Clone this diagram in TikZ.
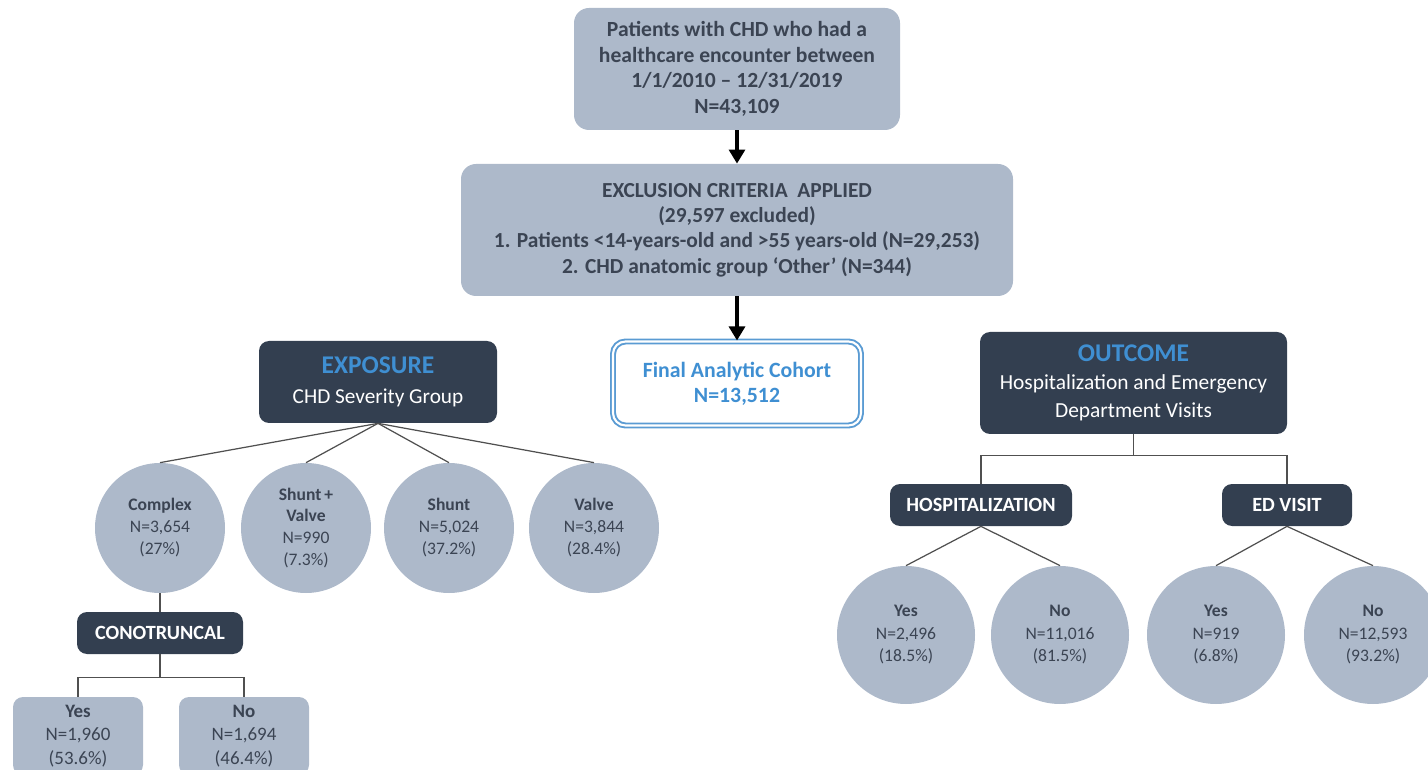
\documentclass[tikz,border=0pt]{standalone}
\usepackage{fontspec}
\setmainfont{Carlito}
\usetikzlibrary{positioning, arrows.meta}
\definecolor{boxgray}{HTML}{ADB9CA}
\definecolor{boxdark}{HTML}{333F50}
\definecolor{textgray}{HTML}{3B4453}
\definecolor{headblue}{HTML}{3F8FD2}
\definecolor{cohortblue}{HTML}{5A9BD3}
\definecolor{branchgray}{HTML}{505050}

\begin{document}
\begin{tikzpicture}[x=0.02cm, y=-0.02cm,
  graybox/.style={rectangle, rounded corners=0.3cm, fill=boxgray, text=textgray, align=center, inner sep=0pt,
    font=\bfseries\fontsize{12.3}{14.6}\selectfont},
  darkbox/.style={rectangle, rounded corners=0.2cm, fill=boxdark, text=white, align=center, inner sep=0pt},
  labelbox/.style={darkbox, font=\bfseries\fontsize{11.5}{13}\selectfont, minimum height=42*0.02cm},
  bubble/.style={circle, fill=boxgray, text=textgray, align=center, inner sep=0pt,
    font=\fontsize{10}{12.5}\selectfont, minimum size=130*0.02cm},
  bigbubble/.style={bubble, font=\fontsize{10}{12.8}\selectfont, minimum size=138*0.02cm},
  answerbox/.style={rectangle, rounded corners=0.2cm, fill=boxgray, text=textgray, align=center, inner sep=0pt,
    font=\fontsize{10.8}{13.3}\selectfont, minimum width=130*0.02cm, minimum height=78*0.02cm},
  flow/.style={-{Triangle[width=9pt, length=8pt]}, line width=2.2pt, black},
  branch/.style={draw=branchgray, line width=0.7pt}
]
  \useasboundingbox (0,0) rectangle (1428,770);
  \clip (0,0) rectangle (1428,770);

  % cohort selection
  \node[graybox, minimum width=326*0.02cm, minimum height=122*0.02cm] (patients) at (737,69)
    {Patients with CHD who had a\\healthcare encounter between\\1/1/2010 -- 12/31/2019\\N=43,109};
  \node[graybox, minimum width=552*0.02cm, minimum height=132*0.02cm, font=\bfseries\fontsize{12.2}{14.4}\selectfont] (exclusion) at (737,230)
    {EXCLUSION CRITERIA\ \ APPLIED\\(29,597 excluded)\\1. Patients <14-years-old and >55 years-old (N=29,253)\\2. CHD anatomic group `Other' (N=344)};
  \node[rectangle, rounded corners=0.25cm, fill=white, draw=cohortblue, line width=1.1pt, double=white,
    double distance=1.2pt, minimum width=248*0.02cm, minimum height=84*0.02cm, align=center, inner sep=0pt,
    text=headblue, font=\bfseries\fontsize{12.4}{14.2}\selectfont] (cohort) at (737,383.5)
    {Final Analytic Cohort\\N=13,512};

  \draw[flow] (patients.south) -- (exclusion.north);
  \draw[flow] (exclusion.south) -- (cohort.north);

  % exposure
  \node[darkbox, minimum width=238*0.02cm, minimum height=82*0.02cm, font=\fontsize{12.1}{17}\selectfont] (exposure) at (378,382)
    {{\fontsize{14.5}{17}\selectfont\bfseries\color{headblue}EXPOSURE}\\CHD Severity Group};
  \node[bubble] (complex) at (160,528) {\textbf{Complex}\\N=3,654\\(27\%)};
  \node[bubble] (shuntvalve) at (306,528) {\textbf{Shunt\,+}\\\textbf{Valve}\\N=990\\(7.3\%)};
  \node[bubble] (shunt) at (449,528) {\textbf{Shunt}\\N=5,024\\(37.2\%)};
  \node[bubble] (valve) at (594,528) {\textbf{Valve}\\N=3,844\\(28.4\%)};
  \foreach \grp in {complex, shuntvalve, shunt, valve}
    \draw[branch] (exposure.south) -- (\grp.north);

  \node[labelbox, minimum width=166*0.02cm] (conotruncal) at (160,633) {CONOTRUNCAL};
  \node[answerbox] (conoyes) at (78,736) {\textbf{Yes}\\N=1,960\\(53.6\%)};
  \node[answerbox] (conono) at (244,736) {\textbf{No}\\N=1,694\\(46.4\%)};
  \draw[branch] (complex.south) -- (conotruncal.north);
  \draw[branch] (conotruncal.south) -- ++(0,23) coordinate (conofork);
  \draw[branch] (conoyes.north) |- (conofork) -| (conono.north);

  % outcome
  \node[darkbox, minimum width=307*0.02cm, minimum height=102*0.02cm, font=\fontsize{12.2}{16}\selectfont] (outcome) at (1133.5,383)
    {{\fontsize{14.5}{16}\selectfont\bfseries\color{headblue}OUTCOME}\\Hospitalization and Emergency\\Department Visits};
  \node[labelbox, minimum width=182*0.02cm] (hosp) at (981,505) {HOSPITALIZATION};
  \node[labelbox, minimum width=130*0.02cm] (edvisit) at (1287,505) {ED VISIT};
  \draw[branch] (outcome.south) -- ++(0,21) coordinate (outfork);
  \draw[branch] (hosp.north) |- (outfork) -| (edvisit.north);

  \node[bigbubble] (hospyes) at (906,635) {\textbf{Yes}\\N=2,496\\(18.5\%)};
  \node[bigbubble] (hospno) at (1060,635) {\textbf{No}\\N=11,016\\(81.5\%)};
  \node[bigbubble] (edyes) at (1216,635) {\textbf{Yes}\\N=919\\(6.8\%)};
  \node[bigbubble] (edno) at (1373,635) {\textbf{No}\\N=12,593\\(93.2\%)};
  \draw[branch] (hosp.south) -- (hospyes.north);
  \draw[branch] (hosp.south) -- (hospno.north);
  \draw[branch] (edvisit.south) -- (edyes.north);
  \draw[branch] (edvisit.south) -- (edno.north);
\end{tikzpicture}
\end{document}
